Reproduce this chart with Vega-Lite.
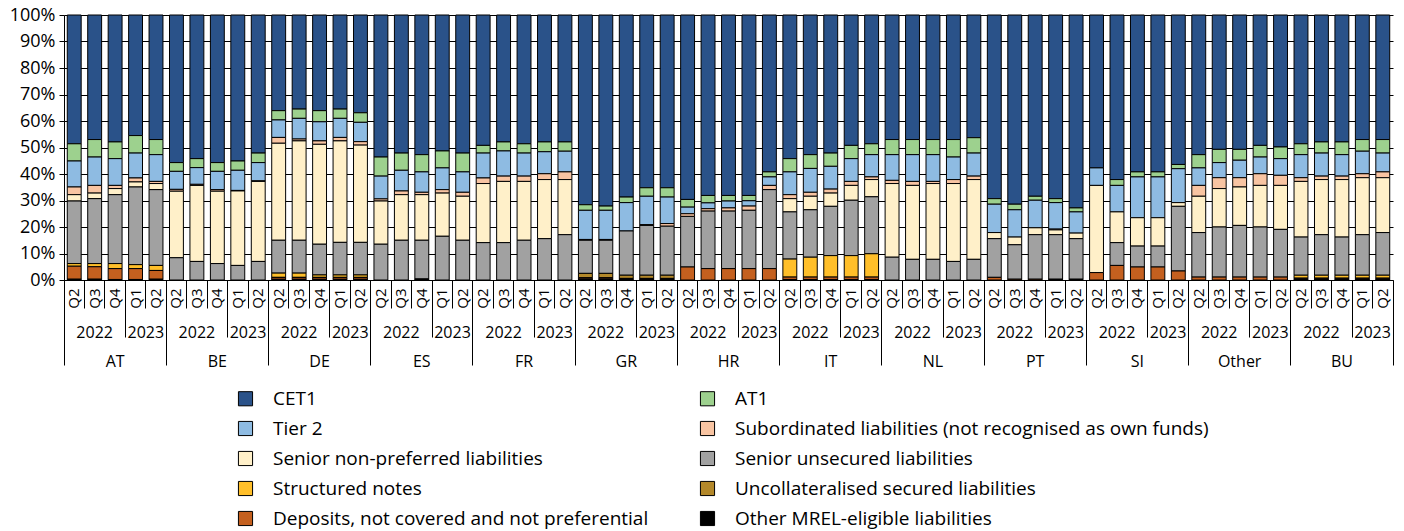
{
  "$schema": "https://vega.github.io/schema/vega-lite/v6.json",
  "width": 1329,
  "height": 265,
  "autosize": {"type": "none"},
  "padding": {"left": 64, "top": 15, "right": 11, "bottom": 251},
  "datasets": {
    "bars": [
      {"id": "AT 2022 Q2", "CET1": 48.6, "AT1": 6.5, "T2": 9.8, "SB": 2.9, "NP": 2.4, "SU": 23.6, "SN": 1.0, "DP": 4.9, "OT": 0.3},
      {"id": "AT 2022 Q3", "CET1": 47.0, "AT1": 6.6, "T2": 10.7, "SB": 2.9, "NP": 2.1, "SU": 24.5, "SN": 1.2, "DP": 4.7, "OT": 0.3},
      {"id": "AT 2022 Q4", "CET1": 47.9, "AT1": 6.3, "T2": 10.1, "SB": 1.2, "NP": 2.3, "SU": 26.0, "SN": 1.9, "DP": 4.1, "OT": 0.2},
      {"id": "AT 2023 Q1", "CET1": 45.5, "AT1": 6.6, "T2": 9.4, "SB": 1.5, "NP": 1.9, "SU": 29.3, "SN": 1.5, "DP": 4.1, "OT": 0.2},
      {"id": "AT 2023 Q2", "CET1": 47.0, "AT1": 5.7, "T2": 10.1, "SB": 0.8, "NP": 2.3, "SU": 28.6, "SN": 1.9, "DP": 3.3, "OT": 0.3},
      {"id": "BE 2022 Q2", "CET1": 55.7, "AT1": 3.3, "T2": 6.8, "SB": 0.7, "NP": 25.1, "SU": 8.4},
      {"id": "BE 2022 Q3", "CET1": 54.2, "AT1": 3.4, "T2": 6.3, "SB": 0.4, "NP": 28.7, "SU": 7.0},
      {"id": "BE 2022 Q4", "CET1": 55.7, "AT1": 3.3, "T2": 6.9, "SB": 0.6, "NP": 27.3, "SU": 6.2},
      {"id": "BE 2023 Q1", "CET1": 55.1, "AT1": 3.5, "T2": 7.6, "SB": 0.2, "NP": 28.1, "SU": 5.5},
      {"id": "BE 2023 Q2", "CET1": 52.1, "AT1": 3.6, "T2": 6.9, "SB": 0.2, "NP": 30.2, "SU": 7.0},
      {"id": "DE 2022 Q2", "CET1": 36.1, "AT1": 3.5, "T2": 6.6, "SB": 2.2, "NP": 36.6, "SU": 12.4, "SN": 1.6, "UC": 0.2, "DP": 0.6, "OT": 0.2},
      {"id": "DE 2022 Q3", "CET1": 35.5, "AT1": 3.5, "T2": 7.8, "SB": 0.7, "NP": 37.5, "SU": 12.4, "SN": 1.6, "UC": 0.2, "DP": 0.6, "OT": 0.2},
      {"id": "DE 2022 Q4", "CET1": 36.1, "AT1": 4.2, "T2": 7.2, "SB": 1.3, "NP": 37.7, "SU": 11.6, "SN": 0.9, "UC": 0.2, "DP": 0.6, "OT": 0.2},
      {"id": "DE 2023 Q1", "CET1": 35.5, "AT1": 3.5, "T2": 7.2, "SB": 1.3, "NP": 38.3, "SU": 12.3, "SN": 0.9, "UC": 0.2, "DP": 0.6, "OT": 0.2},
      {"id": "DE 2023 Q2", "CET1": 36.9, "AT1": 3.6, "T2": 7.3, "SB": 1.3, "NP": 36.7, "SU": 12.3, "SN": 0.9, "UC": 0.2, "DP": 0.6, "OT": 0.2},
      {"id": "ES 2022 Q2", "CET1": 53.6, "AT1": 7.2, "T2": 8.6, "SB": 0.8, "NP": 16.3, "SU": 13.5},
      {"id": "ES 2022 Q3", "CET1": 52.1, "AT1": 6.5, "T2": 7.8, "SB": 1.4, "NP": 17.2, "SU": 15.0},
      {"id": "ES 2022 Q4", "CET1": 52.7, "AT1": 6.5, "T2": 7.7, "SB": 0.9, "NP": 17.2, "SU": 14.6, "OT": 0.4},
      {"id": "ES 2023 Q1", "CET1": 51.3, "AT1": 6.4, "T2": 8.2, "SB": 1.3, "NP": 16.3, "SU": 16.5},
      {"id": "ES 2023 Q2", "CET1": 52.1, "AT1": 7.1, "T2": 7.7, "SB": 1.5, "NP": 16.6, "SU": 15.0},
      {"id": "FR 2022 Q2", "CET1": 49.2, "AT1": 2.9, "T2": 9.4, "SB": 2.1, "NP": 22.3, "SU": 14.1},
      {"id": "FR 2022 Q3", "CET1": 47.9, "AT1": 3.4, "T2": 9.5, "SB": 2.0, "NP": 23.1, "SU": 14.1},
      {"id": "FR 2022 Q4", "CET1": 48.6, "AT1": 3.5, "T2": 8.7, "SB": 2.0, "NP": 22.2, "SU": 15.0},
      {"id": "FR 2023 Q1", "CET1": 47.9, "AT1": 3.7, "T2": 8.3, "SB": 2.2, "NP": 22.3, "SU": 15.6},
      {"id": "FR 2023 Q2", "CET1": 47.9, "AT1": 3.5, "T2": 7.8, "SB": 2.9, "NP": 20.8, "SU": 17.1},
      {"id": "GR 2022 Q2", "CET1": 71.6, "AT1": 2.1, "T2": 11.0, "SB": 0.3, "SU": 12.5, "UC": 1.6, "DP": 0.5, "OT": 0.4},
      {"id": "GR 2022 Q3", "CET1": 72.1, "AT1": 1.6, "T2": 11.0, "SB": 0.3, "SU": 12.5, "UC": 1.6, "DP": 0.5, "OT": 0.4},
      {"id": "GR 2022 Q4", "CET1": 68.7, "AT1": 2.1, "T2": 10.7, "SU": 16.7, "UC": 1.2, "DP": 0.3, "OT": 0.3},
      {"id": "GR 2023 Q1", "CET1": 65.2, "AT1": 3.2, "T2": 10.7, "SB": 0.3, "SU": 18.8, "UC": 1.2, "DP": 0.3, "OT": 0.3},
      {"id": "GR 2023 Q2", "CET1": 65.2, "AT1": 3.5, "T2": 10.0, "SB": 1.0, "SU": 18.5, "UC": 1.2, "DP": 0.3, "OT": 0.3},
      {"id": "HR 2022 Q2", "CET1": 69.6, "AT1": 2.9, "T2": 2.5, "SB": 1.0, "SU": 19.1, "DP": 4.9},
      {"id": "HR 2022 Q3", "CET1": 68.1, "AT1": 2.8, "T2": 2.2, "SB": 0.9, "SU": 21.7, "DP": 4.3},
      {"id": "HR 2022 Q4", "CET1": 68.1, "AT1": 2.1, "T2": 2.6, "SB": 1.2, "SU": 21.7, "DP": 4.3},
      {"id": "HR 2023 Q1", "CET1": 68.1, "AT1": 2.0, "T2": 2.0, "SB": 1.6, "SU": 22.0, "DP": 4.3},
      {"id": "HR 2023 Q2", "CET1": 59.2, "AT1": 1.9, "T2": 3.2, "SB": 1.6, "SU": 29.8, "DP": 4.3},
      {"id": "IT 2022 Q2", "CET1": 54.2, "AT1": 5.0, "T2": 8.6, "SB": 1.5, "NP": 5.0, "SU": 17.8, "SN": 6.8, "DP": 0.9, "OT": 0.2},
      {"id": "IT 2022 Q3", "CET1": 52.7, "AT1": 5.2, "T2": 9.0, "SB": 1.5, "NP": 5.1, "SU": 17.9, "SN": 7.5, "DP": 0.9, "OT": 0.2},
      {"id": "IT 2022 Q4", "CET1": 52.1, "AT1": 5.0, "T2": 8.6, "SB": 1.5, "NP": 5.0, "SU": 18.6, "SN": 8.1, "DP": 0.9, "OT": 0.2},
      {"id": "IT 2023 Q1", "CET1": 49.2, "AT1": 5.0, "T2": 8.6, "SB": 1.5, "NP": 5.6, "SU": 20.9, "SN": 8.1, "DP": 0.9, "OT": 0.2},
      {"id": "IT 2023 Q2", "CET1": 48.6, "AT1": 4.1, "T2": 8.4, "SB": 1.0, "NP": 6.5, "SU": 21.5, "SN": 8.8, "DP": 0.9, "OT": 0.2},
      {"id": "NL 2022 Q2", "CET1": 47.0, "AT1": 5.7, "T2": 9.7, "SB": 1.2, "NP": 27.8, "SU": 8.6},
      {"id": "NL 2022 Q3", "CET1": 47.0, "AT1": 5.7, "T2": 10.1, "SB": 1.5, "NP": 27.9, "SU": 7.8},
      {"id": "NL 2022 Q4", "CET1": 47.0, "AT1": 5.7, "T2": 10.1, "SB": 0.8, "NP": 28.6, "SU": 7.8},
      {"id": "NL 2023 Q1", "CET1": 47.0, "AT1": 6.6, "T2": 8.5, "SB": 1.5, "NP": 29.4, "SU": 7.0},
      {"id": "NL 2023 Q2", "CET1": 46.3, "AT1": 5.8, "T2": 8.7, "SB": 1.3, "NP": 30.1, "SU": 7.8},
      {"id": "PT 2022 Q2", "CET1": 69.3, "AT1": 2.1, "T2": 10.7, "NP": 2.3, "SU": 14.6, "DP": 1.0},
      {"id": "PT 2022 Q3", "CET1": 71.4, "AT1": 2.1, "T2": 10.3, "NP": 2.9, "SU": 13.0, "DP": 0.3},
      {"id": "PT 2022 Q4", "CET1": 68.4, "AT1": 1.5, "T2": 10.4, "NP": 2.6, "SU": 16.8, "DP": 0.3},
      {"id": "PT 2023 Q1", "CET1": 69.3, "AT1": 1.5, "T2": 10.0, "SB": 0.3, "NP": 1.8, "SU": 16.8, "OT": 0.3},
      {"id": "PT 2023 Q2", "CET1": 72.8, "AT1": 1.5, "T2": 8.0, "NP": 2.1, "SU": 15.3, "OT": 0.3},
      {"id": "SI 2022 Q2", "CET1": 57.7, "T2": 6.6, "NP": 32.9, "DP": 2.8},
      {"id": "SI 2022 Q3", "CET1": 62.1, "AT1": 2.2, "T2": 10.0, "NP": 11.6, "SU": 8.6, "DP": 5.5},
      {"id": "SI 2022 Q4", "CET1": 59.2, "AT1": 1.9, "T2": 15.4, "NP": 10.7, "SU": 7.9, "DP": 4.9},
      {"id": "SI 2023 Q1", "CET1": 59.2, "AT1": 1.9, "T2": 15.4, "NP": 10.7, "SU": 7.9, "DP": 4.9},
      {"id": "SI 2023 Q2", "CET1": 56.4, "AT1": 1.6, "T2": 12.8, "NP": 1.4, "SU": 24.4, "DP": 3.4},
      {"id": "Other 2022 Q2", "CET1": 52.7, "AT1": 5.0, "T2": 6.6, "SB": 4.1, "NP": 13.7, "SU": 16.8, "DP": 1.1},
      {"id": "Other 2022 Q3", "CET1": 50.7, "AT1": 5.0, "T2": 5.7, "SB": 4.1, "NP": 14.5, "SU": 18.9, "DP": 1.1},
      {"id": "Other 2022 Q4", "CET1": 50.7, "AT1": 4.1, "T2": 6.6, "SB": 3.5, "NP": 14.5, "SU": 19.5, "DP": 1.1},
      {"id": "Other 2023 Q1", "CET1": 49.2, "AT1": 4.4, "T2": 6.3, "SB": 4.4, "NP": 15.7, "SU": 18.9, "DP": 1.1},
      {"id": "Other 2023 Q2", "CET1": 49.8, "AT1": 4.4, "T2": 6.3, "SB": 3.8, "NP": 16.6, "SU": 18.0, "DP": 1.1},
      {"id": "BU 2022 Q2", "CET1": 48.6, "AT1": 4.1, "T2": 8.7, "SB": 1.4, "NP": 21.0, "SU": 14.4, "SN": 1.1, "DP": 0.3, "OT": 0.4},
      {"id": "BU 2022 Q3", "CET1": 47.9, "AT1": 4.2, "T2": 8.7, "SB": 1.3, "NP": 20.8, "SU": 15.3, "SN": 1.1, "DP": 0.3, "OT": 0.4},
      {"id": "BU 2022 Q4", "CET1": 47.9, "AT1": 4.8, "T2": 8.1, "SB": 1.3, "NP": 21.7, "SU": 14.4, "SN": 1.1, "DP": 0.3, "OT": 0.4},
      {"id": "BU 2023 Q1", "CET1": 47.0, "AT1": 4.4, "T2": 8.5, "SB": 1.5, "NP": 21.5, "SU": 15.3, "SN": 1.1, "DP": 0.3, "OT": 0.4},
      {"id": "BU 2023 Q2", "CET1": 47.0, "AT1": 5.1, "T2": 7.1, "SB": 2.2, "NP": 20.7, "SU": 16.1, "SN": 1.1, "DP": 0.3, "OT": 0.4}
    ],
    "cats": [
      {"k": "CET1", "name": "CET1", "r": 10},
      {"k": "AT1", "name": "AT1", "r": 9},
      {"k": "T2", "name": "Tier 2", "r": 8},
      {"k": "SB", "name": "Subordinated liabilities (not recognised as own funds)", "r": 7},
      {"k": "NP", "name": "Senior non-preferred liabilities", "r": 6},
      {"k": "SU", "name": "Senior unsecured liabilities", "r": 5},
      {"k": "SN", "name": "Structured notes", "r": 4},
      {"k": "UC", "name": "Uncollateralised secured liabilities", "r": 3},
      {"k": "DP", "name": "Deposits, not covered and not preferential", "r": 2},
      {"k": "OT", "name": "Other MREL-eligible liabilities", "r": 1}
    ]
  },
  "data": {"name": "bars"},
  "transform": [
    {"fold": ["CET1", "AT1", "T2", "SB", "NP", "SU", "SN", "UC", "DP", "OT"], "as": ["k", "v"]},
    {"filter": "isValid(datum.v)"},
    {"lookup": "k", "from": {"data": {"name": "cats"}, "key": "k", "fields": ["name", "r"]}}
  ],
  "layer": [
    {
      "mark": {"type": "bar", "stroke": "black", "strokeWidth": 1, "width": {"band": 0.68}},
      "encoding": {
        "x": {
          "field": "id", "type": "nominal", "sort": null,
          "scale": {"paddingInner": 0, "paddingOuter": 0},
          "axis": {
            "orient": "bottom",
            "title": null,
            "labelExpr": "slice(datum.value, -2)",
            "labelAngle": -90,
            "labelFontSize": 15,
            "labelPadding": 8,
            "ticks": false
          }
        },
        "y": {
          "field": "v", "type": "quantitative", "stack": "normalize",
          "axis": {
            "title": null,
            "format": ".0%",
            "values": [0, 0.1, 0.2, 0.3, 0.4, 0.5, 0.6, 0.7, 0.8, 0.9, 1],
            "labelFontSize": 18,
            "labelPadding": 4,
            "tickSize": 5,
            "grid": true,
            "gridColor": "black"
          }
        },
        "color": {
          "field": "name", "type": "nominal",
          "scale": {
            "domain": ["CET1", "AT1", "Tier 2", "Subordinated liabilities (not recognised as own funds)", "Senior non-preferred liabilities", "Senior unsecured liabilities", "Structured notes", "Uncollateralised secured liabilities", "Deposits, not covered and not preferential", "Other MREL-eligible liabilities"],
            "range": ["#2A5289", "#9DD18E", "#8EBBE2", "#F8C4A2", "#FFF0C9", "#A1A1A1", "#FFBF2A", "#B3882A", "#C4601F", "#000000"]
          },
          "legend": {
            "title": null,
            "orient": "none",
            "direction": "horizontal",
            "legendX": 172,
            "legendY": 374,
            "columns": 2,
            "columnPadding": 49,
            "rowPadding": 10,
            "symbolSize": 200,
            "symbolStrokeColor": "black",
            "symbolStrokeWidth": 1,
            "labelFontSize": 19,
            "labelColor": "black",
            "labelLimit": 700,
            "labelOffset": 18
          }
        },
        "order": {"field": "r", "type": "quantitative"}
      }
    },
    {
      "mark": {"type": "bar", "opacity": 0},
      "encoding": {"x": {"field": "id", "type": "nominal", "sort": null,
        "axis": {"orient": "bottom", "title": null, "labels": false, "domain": false, "bandPosition": 0, "tickSize": 28}}}
    },
    {
      "mark": {"type": "bar", "opacity": 0},
      "encoding": {"x": {"field": "id", "type": "nominal", "sort": null,
        "axis": {"orient": "bottom", "title": null, "labels": false, "domain": false, "bandPosition": 0, "tickSize": 57,
          "tickOpacity": {"condition": {"test": "indexof(datum.value + '', '2023 Q1') >= 0", "value": 1}, "value": 0}}}}
    },
    {
      "mark": {"type": "bar", "opacity": 0},
      "encoding": {"x": {"field": "id", "type": "nominal", "sort": null,
        "axis": {"orient": "bottom", "title": null, "labels": false, "domain": false, "bandPosition": 0, "tickSize": 85,
          "tickOpacity": {"condition": {"test": "indexof(datum.value + '', '2022 Q2') >= 0", "value": 1}, "value": 0}}}}
    },
    {
      "mark": {"type": "bar", "opacity": 0},
      "encoding": {"x": {"field": "id", "type": "nominal", "sort": null,
        "axis": {"orient": "bottom", "title": null, "labels": false, "domain": false, "bandPosition": 1, "tickSize": 85,
          "tickOpacity": {"condition": {"test": "indexof(datum.value + '', 'BU 2023 Q2') >= 0", "value": 1}, "value": 0}}}}
    },
    {
      "mark": {"type": "bar", "opacity": 0},
      "encoding": {"x": {"field": "id", "type": "nominal", "sort": null,
        "axis": {"orient": "bottom", "title": null, "ticks": false, "domain": false, "labelAngle": 0, "labelFontSize": 16, "labelPadding": 44,
          "labelExpr": "indexof(datum.value + '', '2022 Q3') >= 0 ? '2022' : ''"}}}
    },
    {
      "mark": {"type": "bar", "opacity": 0},
      "encoding": {"x": {"field": "id", "type": "nominal", "sort": null,
        "axis": {"orient": "bottom", "title": null, "ticks": false, "domain": false, "labelAngle": 0, "labelFontSize": 16, "labelPadding": 44, "labelOffset": -10.22,
          "labelExpr": "indexof(datum.value + '', '2023 Q2') >= 0 ? '2023' : ''"}}}
    },
    {
      "mark": {"type": "bar", "opacity": 0},
      "encoding": {"x": {"field": "id", "type": "nominal", "sort": null,
        "axis": {"orient": "bottom", "title": null, "ticks": false, "domain": false, "labelAngle": 0, "labelFontSize": 16, "labelPadding": 73,
          "labelExpr": "indexof(datum.value + '', '2022 Q4') >= 0 ? split(datum.value, ' ')[0] : ''"}}}
    }
  ],
  "resolve": {"axis": {"x": "independent"}},
  "config": {
    "view": {"stroke": null},
    "font": "Open Sans",
    "axis": {
      "labelColor": "black",
      "tickColor": "black",
      "domainColor": "black"
    }
  }
}
